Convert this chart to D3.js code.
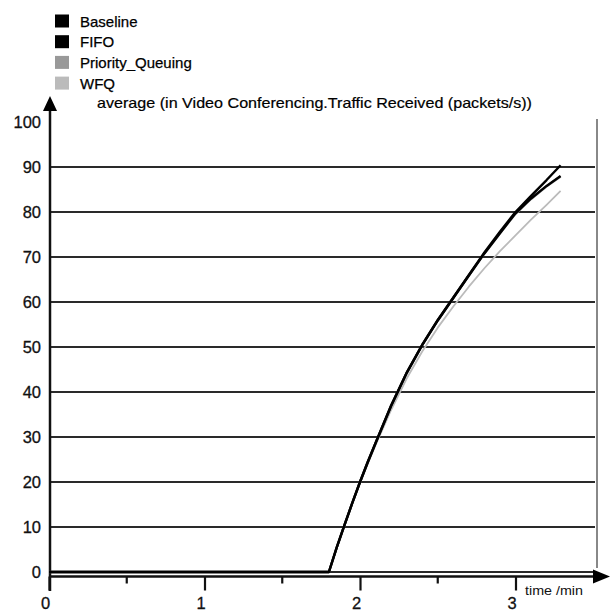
<!DOCTYPE html>
<html><head><meta charset="utf-8">
<script src="https://cdn.jsdelivr.net/npm/d3@7"></script>
<style>body{margin:0;background:#fff}svg{display:block}</style>
</head><body>
<script>
const seriesNames = ["Baseline", "FIFO", "Priority_Queuing", "WFQ"];
const seriesColors = ["#000000", "#000000", "#999999", "#bbbbbb"];
const times = [0, 1.8, 1.85, 1.9, 1.95, 2.0, 2.05, 2.1, 2.2, 2.3, 2.4, 2.5, 2.6, 2.7, 2.8, 2.9, 3.0, 3.1, 3.2, 3.29];
const baseline = [0, 0, 5.4, 10.4, 15.3, 20, 24.5, 28.7, 37, 44.3, 50.5, 56, 61, 66, 71, 75.6, 80, 83.6, 87.1, 90.4];
const fifo     = [0, 0, 5.4, 10.4, 15.3, 20, 24.4, 28.6, 36.9, 44.2, 50.4, 55.9, 60.9, 65.9, 70.8, 75.3, 79.7, 83, 85.8, 88];
const priority = [0, 0, 5.4, 10.4, 15.3, 20, 24.4, 28.6, 36.9, 44.2, 50.4, 55.9, 60.9, 65.9, 70.8, 75.3, 79.6, 82.9, 85.7, 87.9];
const wfq      = [0, 0, 5.3, 10.3, 15.1, 19.8, 24.1, 28.2, 36, 43, 49, 54.3, 59, 63.4, 67.5, 71.3, 74.8, 78.3, 81.6, 84.7];
const yTicks = [0, 10, 20, 30, 40, 50, 60, 70, 80, 90, 100];
const xTicks = [0, 1, 2, 3];
const xMinor = [0.5, 1.5, 2.5];
const title = "average (in Video Conferencing.Traffic Received (packets/s))";
const xLabel = "time /min";

const W = 611, H = 612;
const svg = d3.select("body").append("svg").attr("width", W).attr("height", H);
const font = "'Liberation Sans', Arial, sans-serif";

const x = d3.scaleLinear().domain([0, 3]).range([49, 515.5]);
const y = d3.scaleLinear().domain([0, 100]).range([572, 122]);
const axisY = y(0) + 4.5;

// legend
const leg = svg.append("g");
seriesNames.forEach((n, i) => {
  const cy = 21 + i * 20.7;
  leg.append("rect").attr("x", 55).attr("y", cy - 6.5).attr("width", 14).attr("height", 13).attr("fill", seriesColors[i]);
  leg.append("text").attr("x", 80).attr("y", cy + 5.5).attr("font-family", font).attr("font-size", 15)
    .attr("fill", "#000").attr("stroke", "#000").attr("stroke-width", 0.25).text(n);
});

// title
svg.append("text").attr("x", 97).attr("y", 108).attr("font-family", font).attr("font-size", 14.5)
  .attr("fill", "#000").attr("stroke", "#000").attr("stroke-width", 0.2)
  .attr("textLength", 435).attr("lengthAdjust", "spacingAndGlyphs").text(title);

// right border
svg.append("line").attr("x1", 597).attr("x2", 597).attr("y1", 119).attr("y2", 568)
  .attr("stroke", "#888").attr("stroke-width", 2);

// gridlines
svg.append("g").selectAll("line").data(yTicks.filter(d => d > 0 && d < 100)).join("line")
  .attr("x1", 50).attr("x2", 595).attr("y1", d => y(d)).attr("y2", d => y(d))
  .attr("stroke", "#2a2a2a").attr("stroke-width", 2);
svg.append("line").attr("x1", 50).attr("x2", 595).attr("y1", y(0)).attr("y2", y(0))
  .attr("stroke", "#2a2a2a").attr("stroke-width", 2);

// y axis labels
const gy = svg.append("g").attr("transform", "translate(41,0)")
  .call(d3.axisLeft(y).tickValues(yTicks).tickSize(0).tickPadding(0).tickFormat(d3.format("d")));
gy.select(".domain").remove();
gy.selectAll("text").attr("font-family", font).attr("font-size", 16.5).attr("fill", "#111")
  .attr("stroke", "#111").attr("stroke-width", 0.3).attr("dy", "0.36em").attr("x", 0);

// x axis
const gx = svg.append("g").attr("transform", `translate(0,${axisY})`)
  .call(d3.axisBottom(x).tickValues(xTicks).tickSize(14).tickPadding(7).tickFormat(d3.format("d")));
gx.select(".domain").remove();
gx.selectAll(".tick line").attr("stroke", "#111").attr("stroke-width", 2.2);
gx.selectAll("text").attr("font-family", font).attr("font-size", 16.5).attr("fill", "#111")
  .attr("stroke", "#111").attr("stroke-width", 0.3).attr("dx", "-4");
svg.append("g").selectAll("line").data(xMinor).join("line")
  .attr("x1", d => x(d)).attr("x2", d => x(d)).attr("y1", axisY).attr("y2", axisY + 7)
  .attr("stroke", "#111").attr("stroke-width", 2.2);

// x axis line + arrow
svg.append("line").attr("x1", 49).attr("x2", 596).attr("y1", axisY).attr("y2", axisY)
  .attr("stroke", "#111").attr("stroke-width", 2.5);
svg.append("path").attr("d", `M593,${axisY - 7}L610,${axisY}L593,${axisY + 7}Z`).attr("fill", "#000");
svg.append("text").attr("x", 525).attr("y", axisY + 18).attr("font-family", font).attr("font-size", 13)
  .attr("fill", "#111").attr("textLength", 58).attr("lengthAdjust", "spacingAndGlyphs").text(xLabel);

// y axis line + arrow
svg.append("line").attr("x1", 50).attr("x2", 50).attr("y1", 108).attr("y2", 591)
  .attr("stroke", "#111").attr("stroke-width", 2.5);
svg.append("path").attr("d", "M43,111L50,96L57,111Z").attr("fill", "#000");

// series
const series = [baseline, fifo, priority, wfq];
const line = d3.line().x((d, i) => x(times[i])).y(d => y(d));
const order = [3, 2, 1, 0];
order.forEach(k => {
  svg.append("path").datum(series[k]).attr("d", line).attr("fill", "none")
    .attr("stroke", seriesColors[k]).attr("stroke-width", k === 3 ? 1.8 : 2.4)
    .attr("stroke-linejoin", "round");
});
</script>
</body></html>
